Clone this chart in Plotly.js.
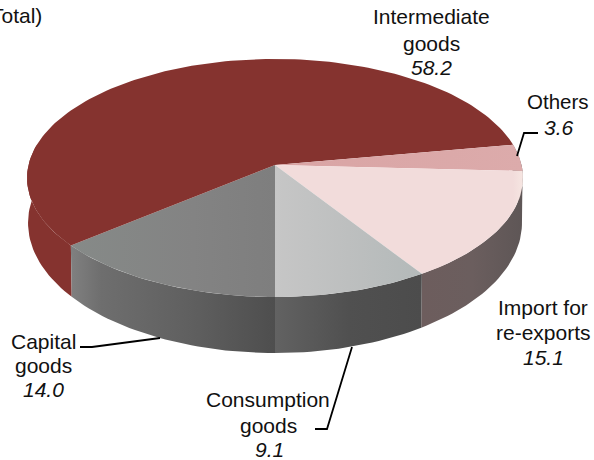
<!DOCTYPE html>
<html>
<head>
<meta charset="utf-8">
<script src="https://cdn.plot.ly/plotly-3.0.1.min.js"></script>
<style>html,body{margin:0;padding:0;background:#fff}#c{width:594px;height:460px}</style>
</head>
<body>
<div id="c"></div>
<script>
// Data (percent of total), clockwise on screen starting from straight down
const categories = ["Capital goods", "Intermediate goods", "Others", "Import for re-exports", "Consumption goods"];
const values = [14.0, 58.2, 3.6, 15.1, 9.1];
const valueLabels = ["14.0", "58.2", "3.6", "15.1", "9.1"];

// Styles: gradient stops run left to right on screen
const topColors = [
  [[0,"#868a88"],[0.6,"#838383"],[1,"#7e7e7e"]],
  [[0,"#85332f"],[1,"#85332f"]],
  [[0,"#d9a4a4"],[1,"#dcabab"]],
  [[0,"#f2dcdb"],[0.96,"#f2dcdb"],[1,"#f6e6e2"]],
  [[0,"#c6c6c6"],[0.5,"#bdbfbf"],[1,"#b3b9b9"]]
];
const sideColors = [
  [[0,"#808080"],[0.15,"#6e6e6e"],[0.6,"#5f5f5f"],[1,"#4e4e4e"]],
  [[0,"#85332f"],[1,"#85332f"]],
  [[0,"#6b5c5c"],[1,"#6b5c5c"]],
  [[0,"#6d5d5d"],[0.5,"#6b5e5e"],[1,"#5e5656"]],
  [[0,"#626262"],[0.5,"#505050"],[1,"#4c4c4c"]]
];

// Projection: circles in two parallel planes seen with perspective
const cx = 275, K = 0.109;
const topPlane = {y0:165, A:246.5, B:117.6};
const bottomPlane = {y0:208.8, A:245.5, B:128.5};
function rim(deg, plane) {
  const r = deg * Math.PI / 180, u = -Math.sin(r), v = Math.cos(r), w = 1 - K * v;
  return [cx + plane.A * u / w, plane.y0 + plane.B * v / w];
}
function arc(d0, d1, plane) {
  const n = Math.max(2, Math.ceil(Math.abs(d1 - d0) / 1.5)), pts = [];
  for (let i = 0; i <= n; i++) pts.push(rim(d0 + (d1 - d0) * i / n, plane));
  return pts;
}
const total = values.reduce((a, b) => a + b, 0);
const traces = [];
let acc = 0;
const spans = values.map(val => { const s = [acc, acc + val / total * 360]; acc = s[1]; return s; });

function poly(pts, colors, name, hover) {
  const xs = pts.map(p => p[0]), ys = pts.map(p => p[1]);
  const x0 = Math.min(...xs), x1 = Math.max(...xs);
  return {type:"scatter", mode:"lines", x:xs.concat(xs[0]), y:ys.concat(ys[0]), fill:"toself",
    fillgradient:{type:"horizontal", colorscale:colors, start:x0, stop:x1},
    line:{width:0}, hoverinfo:hover ? "text" : "skip", text:hover || "", showlegend:false, name};
}
// Side wall: only the part of each slice facing the viewer
[1, 2, 3, 0, 4].forEach(i => {
  const [a, b] = spans[i];
  const d1 = a < 100 ? Math.min(b, 100) : b;
  traces.push(poly(arc(a, d1, topPlane).concat(arc(d1, a, bottomPlane)), sideColors[i], categories[i] + " side"));
});
// Top face
spans.forEach(([a, b], i) => {
  traces.push(poly([[cx, topPlane.y0]].concat(arc(a, b, topPlane)), topColors[i], categories[i], categories[i] + ": " + valueLabels[i]));
});

const FS = 21;
const FONT = "Liberation Sans, Arial, sans-serif";
function label(x, y, text, italic, size) {
  return {x, y, xref:"x", yref:"y", text, showarrow:false, xanchor:"center", yanchor:"middle",
    font:{family:FONT, size:size || FS, color:"#111", style: italic ? "italic" : "normal"}};
}
const annotations = [
  {x:44, y:15, xref:"x", yref:"y", text:"Total)", showarrow:false, xanchor:"right", yanchor:"middle",
   font:{family:FONT, size:FS, color:"#111"}},
  label(431, 16, "Intermediate"), label(431, 43, "goods"), label(431, 67, valueLabels[1], true),
  label(558, 101, "Others", false, 20.5), label(559, 127, valueLabels[2], true),
  label(543, 307, "Import for"), label(543, 332, "re-exports"), label(543, 357, valueLabels[3], true),
  label(43, 341, "Capital"), label(43, 365, "goods"), label(43, 389, valueLabels[0], true),
  label(268, 399, "Consumption"), label(268, 425, "goods"), label(269, 449, valueLabels[4], true)
];
function leader(pts) {
  return {type:"path", xref:"x", yref:"y", line:{color:"#000", width:1.8},
    path:"M" + pts.map(p => p.join(",")).join("L")};
}
const shapes = [
  leader([[80,347],[92,347],[160,338]]),
  leader([[538,133],[524,133],[517,156]]),
  leader([[315,429],[327,429],[352,347]])
];
Plotly.newPlot("c", traces, {
  width:594, height:460, margin:{l:0,r:0,t:0,b:0}, paper_bgcolor:"#fff", plot_bgcolor:"#fff",
  xaxis:{range:[0,594], visible:false, fixedrange:true},
  yaxis:{range:[460,0], visible:false, fixedrange:true},
  annotations, shapes, showlegend:false
}, {displayModeBar:false, staticPlot:true});
</script>
</body>
</html>
